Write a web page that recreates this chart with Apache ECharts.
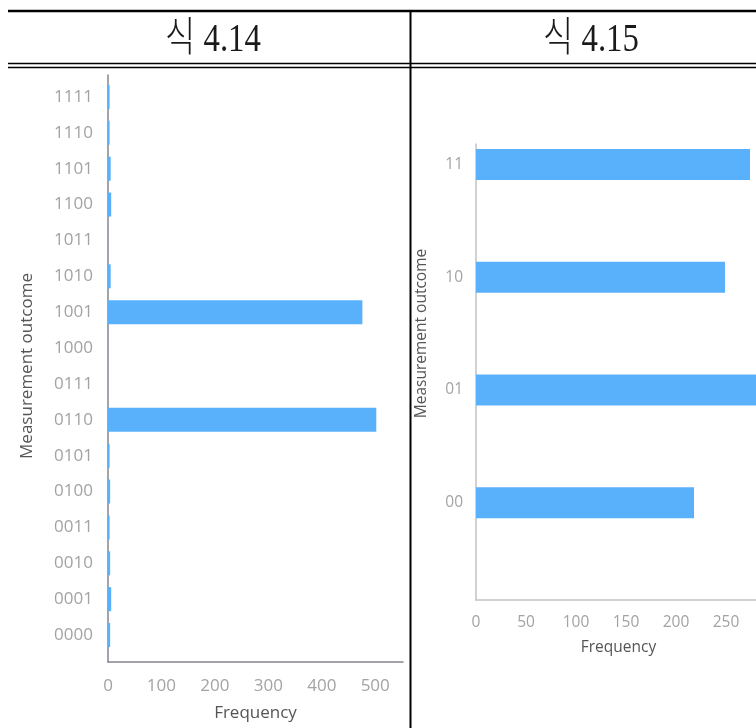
<!DOCTYPE html>
<html>
<head>
<meta charset="utf-8">
<style>
  html, body { margin: 0; padding: 0; background: #ffffff; }
  #chart { width: 756px; height: 728px; }
</style>
<script src="https://cdn.jsdelivr.net/npm/echarts@6/dist/echarts.min.js"></script>
</head>
<body>
<div id="chart"></div>
<script>
// Four-qubit measurement histogram (left panel)
const outcomes4 = ['0000','0001','0010','0011','0100','0101','0110','0111',
                   '1000','1001','1010','1011','1100','1101','1110','1111'];
const counts4   = [4, 6, 4, 3, 4, 3, 502, 0, 0, 476, 5, 0, 6, 5, 3, 3];

// Two-qubit measurement histogram (right panel)
const outcomes2 = ['00', '01', '10', '11'];
const counts2   = [218, 283, 249, 274];

// Table header captions
const captions = ['식 4.14', '식 4.15'];

// Frequency-axis ranges and steps
const freqMax4 = 552, freqStep4 = 100;
const freqMax2 = 285, freqStep2 = 50;

const BAR = '#5AB1FB';
const LABEL_FONT = '"Open Sans", "DejaVu Sans", sans-serif';

const chart = echarts.init(document.getElementById('chart'), null, { renderer: 'canvas' });

const hiddenValueAxis = (grid, max) => ({
  gridIndex: grid, type: 'value', min: 0, max: max, show: false
});

const frameValueAxis = (grid, max, step, color, fs, margin, nameGap) => ({
  gridIndex: grid, type: 'value', min: 0, max: max, interval: step,
  axisLine: { show: true, lineStyle: { color: color, width: 1.5 } },
  axisTick: { show: false },
  splitLine: { show: false },
  axisLabel: { color: '#a3a3a3', fontSize: fs, fontFamily: LABEL_FONT, margin: margin,
               showMaxLabel: false },
  name: 'Frequency', nameLocation: 'middle', nameGap: nameGap,
  nameMoveOverlap: false,
  nameTextStyle: { color: '#555555', fontSize: fs, fontFamily: LABEL_FONT }
});

const frameSideAxis = (grid, color) => ({
  gridIndex: grid, type: 'value', min: 0, max: 1,
  axisLine: { show: true, lineStyle: { color: color, width: 1.5 } },
  axisTick: { show: false }, axisLabel: { show: false }, splitLine: { show: false }
});

const categoryAxis = (grid, data, fs, margin, nameGap) => ({
  gridIndex: grid, type: 'category', data: data,
  axisLine: { show: false }, axisTick: { show: false },
  splitLine: { show: false },
  axisLabel: { color: '#a3a3a3', fontSize: fs, fontFamily: LABEL_FONT, margin: margin },
  name: 'Measurement outcome', nameLocation: 'middle', nameGap: nameGap,
  nameMoveOverlap: false,
  nameTextStyle: { color: '#555555', fontSize: fs, fontFamily: LABEL_FONT }
});

const captionStyle = (text) => ({
  text: text, font: '300 41px "Liberation Serif", "Noto Sans CJK KR", serif',
  fill: '#1a1a1a', align: 'center', verticalAlign: 'middle',
  textAlign: 'center', textVerticalAlign: 'middle'
});

const option = {
  animation: false,
  backgroundColor: '#ffffff',
  grid: [
    { left: 108, top: 79, width: 295, height: 574, outerBoundsMode: 'none', containLabel: false },
    { left: 108, top: 75, width: 295, height: 587, outerBoundsMode: 'none', containLabel: false },
    { left: 476, top: 108, width: 285, height: 451, outerBoundsMode: 'none', containLabel: false },
    { left: 476, top: 144, width: 285, height: 456, outerBoundsMode: 'none', containLabel: false }
  ],
  xAxis: [
    hiddenValueAxis(0, freqMax4),
    frameValueAxis(1, freqMax4, freqStep4, '#85858f', 17, 16, 43),
    hiddenValueAxis(2, freqMax2),
    frameValueAxis(3, freqMax2, freqStep2, '#c2c2c2', 15.5, 15, 40)
  ],
  yAxis: [
    categoryAxis(0, outcomes4, 17, 15, 72),
    frameSideAxis(1, '#85858f'),
    categoryAxis(2, outcomes2, 15.5, 13, 46),
    frameSideAxis(3, '#c2c2c2')
  ],
  series: [
    { type: 'bar', xAxisIndex: 0, yAxisIndex: 0, data: counts4, barWidth: 24,
      itemStyle: { color: BAR } },
    { type: 'bar', xAxisIndex: 2, yAxisIndex: 2, data: counts2, barWidth: 31,
      itemStyle: { color: BAR } }
  ],
  graphic: [
    // table rules
    { type: 'line', shape: { x1: 8, y1: 11, x2: 756, y2: 11 },
      style: { stroke: '#000', lineWidth: 2.5 } },
    { type: 'line', shape: { x1: 8, y1: 63.5, x2: 756, y2: 63.5 },
      style: { stroke: '#000', lineWidth: 1.3 } },
    { type: 'line', shape: { x1: 8, y1: 67.5, x2: 756, y2: 67.5 },
      style: { stroke: '#000', lineWidth: 1.3 } },
    { type: 'line', shape: { x1: 410.5, y1: 10, x2: 410.5, y2: 728 },
      style: { stroke: '#000', lineWidth: 2 } },
    // header captions
    { type: 'text', x: 213, y: 40, scaleX: 0.8, style: captionStyle(captions[0]) },
    { type: 'text', x: 591, y: 40, scaleX: 0.8, style: captionStyle(captions[1]) }
  ]
};

chart.setOption(option);
</script>
</body>
</html>
